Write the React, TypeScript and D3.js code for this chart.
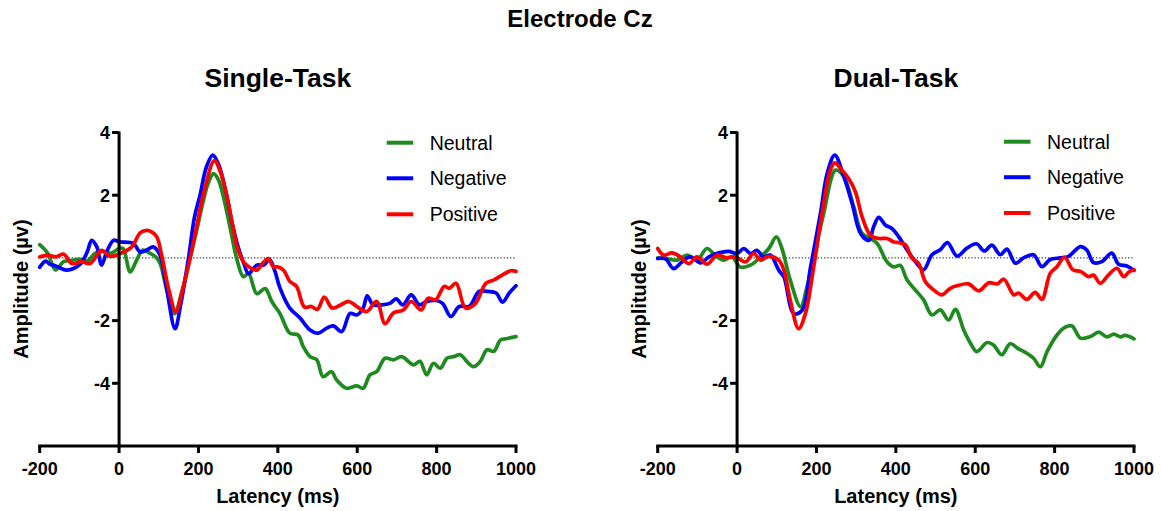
import React from "react";
import * as d3 from "d3";

// ---------- data (latency ms, amplitude µV) ----------
const latencyTicks = [-200, 0, 200, 400, 600, 800, 1000];
const amplitudeTicks = [4, 2, -2, -4];
const seriesNames = ["Neutral", "Negative", "Positive"];
const seriesColors = ["#1f8a1f", "#0000ff", "#ff0000"];
const panelTitles = ["Single-Task", "Dual-Task"];

const stNeutral: [number, number][] = [
  [-200, 0.42], [-180, 0.15], [-160, -0.38], [-140, -0.12], [-120, -0.08], [-100, -0.05], [-80, -0.1],
  [-60, 0.15], [-40, 0.2], [-20, 0.15], [0, 0.3], [10, 0.3], [28, -0.45], [45, -0.05], [60, 0.25],
  [78, 0.15], [95, 0.0], [104, -0.2], [118, -0.9], [139, -1.78], [160, -1.0], [179, 0.0], [195, 0.85],
  [210, 1.7], [225, 2.4], [238, 2.69], [250, 2.5], [262, 2.0], [280, 0.95], [296, 0.0], [313, -0.6],
  [326, -0.5], [347, -1.14], [368, -0.98], [385, -1.4], [405, -1.77], [430, -2.4], [451, -2.46],
  [464, -2.83], [481, -3.15], [498, -3.25], [514, -3.79], [535, -3.63], [548, -3.89], [573, -4.16],
  [599, -4.08], [615, -4.16], [632, -3.73], [649, -3.63], [670, -3.2], [691, -3.25], [712, -3.15],
  [742, -3.41], [758, -3.3], [775, -3.73], [792, -3.36], [809, -3.52], [826, -3.2], [843, -3.15],
  [860, -3.09], [876, -3.3], [893, -3.47], [910, -3.3], [927, -2.93], [944, -2.98], [961, -2.62],
  [978, -2.57], [1000, -2.51],
];

const stNegative: [number, number][] = [
  [-200, -0.3], [-185, -0.1], [-175, -0.2], [-161, -0.25], [-132, -0.39], [-98, -0.2], [-80, 0.2],
  [-69, 0.56], [-56, 0.35], [-44, -0.23], [-31, 0.2], [-14, 0.56], [2, 0.51], [36, 0.46], [53, 0.19],
  [70, 0.25], [86, 0.35], [103, 0.09], [120, -1.0], [141, -2.26], [155, -1.5], [175, 0.0], [190, 1.3],
  [204, 2.0], [220, 2.9], [236, 3.28], [250, 3.0], [271, 2.0], [285, 1.1], [300, 0.35], [315, -0.2],
  [326, -0.5], [347, -0.23], [364, -0.23], [379, -0.05], [392, -0.4], [405, -0.95], [430, -1.6],
  [456, -1.92], [481, -2.3], [502, -2.4], [523, -2.24], [540, -2.17], [561, -2.35], [582, -1.77],
  [599, -1.82], [615, -1.6], [625, -1.21], [640, -1.5], [661, -1.5], [682, -1.45], [698, -1.31],
  [715, -1.5], [736, -1.18], [757, -1.5], [773, -1.4], [799, -1.36], [815, -1.45], [836, -1.87],
  [857, -1.55], [882, -1.55], [907, -1.07], [929, -1.07], [950, -1.12], [966, -1.41], [983, -1.12],
  [1000, -0.89],
];

const stPositive: [number, number][] = [
  [-200, 0.03], [-178, 0.09], [-161, 0.03], [-140, 0.12], [-119, -0.18], [-94, -0.12], [-73, -0.18],
  [-44, 0.24], [-23, 0.05], [3, 0.14], [32, 0.35], [53, 0.8], [70, 0.88], [82, 0.83], [95, 0.67],
  [107, 0.1], [125, -1.0], [143, -1.72], [160, -1.0], [179, 0.0], [195, 0.97], [212, 2.0], [240, 3.1],
  [255, 2.75], [271, 2.0], [285, 1.1], [300, 0.24], [317, -0.18], [347, -0.39], [360, -0.2],
  [376, -0.02], [388, -0.28], [401, -0.29], [415, -0.4], [430, -0.75], [447, -0.91], [467, -1.57],
  [484, -1.55], [500, -1.64], [517, -1.25], [537, -1.6], [558, -1.5], [579, -1.39], [599, -1.55],
  [624, -1.71], [649, -1.39], [670, -2.1], [691, -1.76], [716, -1.66], [736, -1.39], [761, -1.66],
  [778, -1.29], [798, -1.33], [819, -0.91], [832, -0.97], [849, -0.81], [873, -1.6], [898, -1.45],
  [924, -0.81], [945, -0.7], [966, -0.54], [987, -0.41], [1000, -0.43],
];

const dtNeutral: [number, number][] = [
  [-200, 0.0], [-176, -0.03], [-151, -0.07], [-126, 0.09], [-101, -0.07], [-76, 0.3], [-55, 0.08],
  [-34, -0.07], [-13, 0.03], [8, -0.29], [34, -0.23], [59, 0.03], [80, 0.3], [99, 0.67], [113, 0.3],
  [134, -0.71], [160, -1.56], [176, -0.93], [193, 0.0], [218, 1.41], [248, 2.8], [269, 2.59],
  [294, 1.63], [315, 0.78], [336, 0.62], [353, 0.46], [378, -0.13], [395, -0.29], [411, -0.24],
  [428, -0.7], [449, -1.02], [470, -1.34], [491, -1.82], [512, -1.66], [533, -1.98], [550, -1.64],
  [571, -2.3], [588, -2.72], [604, -2.99], [630, -2.7], [646, -2.78], [667, -3.09], [688, -2.74],
  [709, -2.9], [730, -3.04], [747, -3.2], [764, -3.47], [781, -2.99], [806, -2.46], [827, -2.21],
  [844, -2.17], [865, -2.56], [890, -2.51], [911, -2.37], [932, -2.52], [949, -2.43], [966, -2.52],
  [978, -2.47], [1000, -2.58],
];

const dtNegative: [number, number][] = [
  [-200, -0.02], [-181, -0.02], [-160, -0.34], [-139, -0.13], [-118, 0.03], [-92, -0.16], [-71, 0.03],
  [-46, 0.16], [-21, 0.21], [0, 0.14], [17, 0.3], [34, 0.14], [50, 0.24], [67, 0.03], [84, 0.09],
  [105, -0.39], [118, -0.61], [143, -1.78], [164, -1.67], [185, -0.3], [210, 1.41], [227, 2.69],
  [246, 3.28], [269, 2.59], [290, 1.73], [311, 0.78], [332, 0.56], [344, 0.99], [357, 1.29],
  [374, 1.04], [390, 0.94], [407, 0.68], [428, 0.26], [449, -0.12], [470, -0.38], [491, 0.1],
  [512, 0.26], [530, 0.49], [554, 0.06], [579, 0.31], [603, 0.45], [623, 0.22], [642, 0.41],
  [663, 0.1], [680, 0.28], [701, -0.17], [722, 0.0], [747, 0.1], [768, -0.28], [789, -0.05],
  [814, 0.0], [835, 0.05], [865, 0.36], [881, 0.25], [898, -0.15], [919, -0.12], [944, 0.15],
  [961, -0.2], [982, -0.26], [1000, -0.4],
];

const dtPositive: [number, number][] = [
  [-200, 0.3], [-185, 0.09], [-164, 0.16], [-143, 0.03], [-122, -0.18], [-101, 0.03], [-76, -0.2],
  [-50, 0.09], [-29, 0.01], [-4, 0.03], [21, -0.13], [42, 0.14], [59, -0.07], [80, 0.05], [105, -0.07],
  [118, -0.39], [134, -1.35], [155, -2.26], [172, -1.78], [193, -0.29], [214, 1.41], [235, 2.8],
  [246, 3.03], [264, 2.8], [281, 2.53], [298, 2.11], [315, 1.31], [336, 0.72], [357, 0.62],
  [378, 0.62], [395, 0.51], [407, 0.49], [424, 0.42], [440, 0.0], [457, -0.17], [474, -0.75],
  [495, -1.02], [516, -1.18], [537, -0.97], [554, -0.89], [583, -0.83], [609, -1.05], [634, -0.79],
  [655, -0.83], [672, -0.68], [697, -1.18], [709, -1.12], [730, -1.32], [751, -1.1], [768, -1.32],
  [789, -0.49], [806, -0.28], [825, 0.02], [846, -0.38], [865, -0.43], [886, -0.6], [898, -0.55],
  [915, -0.81], [936, -0.54], [957, -0.33], [974, -0.6], [987, -0.45], [1000, -0.38],
];

const panelSeries = [
  [stNeutral, stNegative, stPositive],
  [dtNeutral, dtNegative, dtPositive],
];

// ---------- layout ----------
const W = 1161;
const H = 511;
const FONT = "'Liberation Sans', Arial, Helvetica, sans-serif";
const panelX0 = [39.7, 657.7];
const panelX1 = [516, 1134];
const yTop = 132.5;
const yBottom = 446;

function Panel({ idx }: { idx: number }) {
  const x = d3.scaleLinear().domain([-200, 1000]).range([panelX0[idx], panelX1[idx]]);
  const y = d3.scaleLinear().domain([-6, 4]).range([yBottom, yTop]);
  const line = d3
    .line<[number, number]>()
    .x((d) => x(d[0]))
    .y((d) => y(d[1]))
    .curve(d3.curveCatmullRom.alpha(0.5));
  const x0 = x(0);
  const titleX = (panelX0[idx] + panelX1[idx]) / 2;
  const legX = idx === 0 ? 386.7 : 1004;
  const legY = idx === 0 ? [142.7, 178.3, 214.3] : [141.7, 177.2, 213];
  return (
    <g>
      <text x={titleX} y={87} textAnchor="middle" fontFamily={FONT} fontWeight="bold" fontSize={26.5} fill="#000">
        {panelTitles[idx]}
      </text>
      {/* zero reference */}
      <line x1={x(-200)} x2={x(1000)} y1={y(0)} y2={y(0)} stroke="#333" strokeWidth={1.1} strokeDasharray="1.2,2" />
      {/* series */}
      {panelSeries[idx].map((s, i) => (
        <path key={i} d={line(s) || ""} fill="none" stroke={seriesColors[i]} strokeWidth={3.7} strokeLinejoin="round" strokeLinecap="round" />
      ))}
      {/* y axis */}
      <line x1={x0} x2={x0} y1={y(4) - 1} y2={y(-6) + 1.5} stroke="#000" strokeWidth={3} />
      {amplitudeTicks.map((t) => (
        <g key={t}>
          <line x1={x0 - 7} x2={x0} y1={y(t)} y2={y(t)} stroke="#000" strokeWidth={3} />
          <text x={x0 - 9} y={y(t) + 6.5} textAnchor="end" fontFamily={FONT} fontWeight="bold" fontSize={18} fill="#000">
            {t}
          </text>
        </g>
      ))}
      {/* x axis */}
      <line x1={x(-200) - 1.5} x2={x(1000) + 1.5} y1={y(-6)} y2={y(-6)} stroke="#000" strokeWidth={3} />
      {latencyTicks.map((t) => (
        <g key={t}>
          <line x1={x(t)} x2={x(t)} y1={y(-6)} y2={y(-6) + 7} stroke="#000" strokeWidth={3} />
          <text x={x(t)} y={475} textAnchor="middle" fontFamily={FONT} fontWeight="bold" fontSize={18} fill="#000">
            {t}
          </text>
        </g>
      ))}
      <text x={titleX} y={503} textAnchor="middle" fontFamily={FONT} fontWeight="bold" fontSize={20} fill="#000">
        Latency (ms)
      </text>
      <text
        transform={`translate(${panelX0[idx] - 12},${289}) rotate(-90)`}
        textAnchor="middle"
        fontFamily={FONT}
        fontWeight="bold"
        fontSize={20}
        fill="#000"
      >
        Amplitude (µv)
      </text>
      {/* legend */}
      {seriesNames.map((n, i) => (
        <g key={n}>
          <line x1={legX} x2={legX + 26.5} y1={legY[i]} y2={legY[i]} stroke={seriesColors[i]} strokeWidth={4} />
          <text x={legX + 43} y={legY[i] + 7} fontFamily={FONT} fontSize={19.5} fill="#000">
            {n}
          </text>
        </g>
      ))}
    </g>
  );
}

export default function App() {
  return (
    <svg
      width={W}
      height={H}
      viewBox={`0 0 ${W} ${H}`}
      style={{ position: "absolute", left: 0, top: 0, background: "#fff" }}
    >
      <rect x={0} y={0} width={W} height={H} fill="#fff" />
      <text x={580} y={27} textAnchor="middle" fontFamily={FONT} fontWeight="bold" fontSize={24} fill="#000">
        Electrode Cz
      </text>
      <Panel idx={0} />
      <Panel idx={1} />
    </svg>
  );
}
